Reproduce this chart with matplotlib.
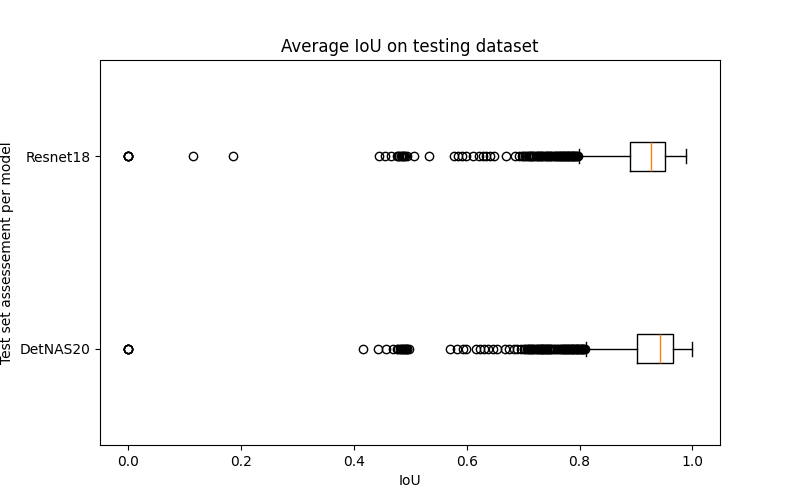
import matplotlib
matplotlib.use("Agg")
import matplotlib.pyplot as plt

models = ["DetNAS20", "Resnet18"]

# box statistics
q1 = [0.901, 0.889]
med = [0.942, 0.926]
q3 = [0.965, 0.952]
whislo = [0.812, 0.799]
whishi = [0.999, 0.989]

fliers_detnas = [0.0, 0.0, 0.0, 0.0, 0.0, 0.416, 0.443, 0.457, 0.469, 0.476, 0.479,
                 0.481, 0.483, 0.485, 0.487, 0.488, 0.490, 0.492, 0.494, 0.495, 0.498,
                 0.571, 0.582, 0.594, 0.598, 0.616, 0.624, 0.631, 0.637, 0.646,
                 0.653, 0.667, 0.675, 0.684, 0.690, 0.697, 0.701, 0.703, 0.706, 0.708,
                 0.710, 0.712, 0.714, 0.716, 0.718, 0.720, 0.722, 0.724, 0.726, 0.728,
                 0.730, 0.731, 0.733, 0.734, 0.736, 0.737, 0.739, 0.740, 0.742, 0.743,
                 0.745, 0.746, 0.748, 0.750, 0.752, 0.755, 0.757, 0.760, 0.762, 0.765,
                 0.767, 0.769, 0.771, 0.772, 0.774, 0.775, 0.777, 0.778, 0.780, 0.781,
                 0.783, 0.784, 0.786, 0.787, 0.789, 0.790, 0.792, 0.793, 0.795, 0.796,
                 0.798, 0.799, 0.801, 0.802, 0.804, 0.805, 0.807, 0.808, 0.810]
fliers_resnet = [0.0, 0.0, 0.0, 0.0, 0.0, 0.115, 0.186, 0.444, 0.455, 0.466, 0.476,
                 0.478, 0.480, 0.483, 0.485, 0.487, 0.488, 0.490, 0.494, 0.506, 0.534,
                 0.578, 0.584, 0.592, 0.598, 0.611, 0.621, 0.629, 0.635, 0.642,
                 0.648, 0.670, 0.686, 0.693, 0.698, 0.700, 0.703, 0.705, 0.708, 0.710,
                 0.712, 0.714, 0.716, 0.718, 0.720, 0.722, 0.724, 0.726, 0.728, 0.730,
                 0.732, 0.734, 0.736, 0.738, 0.740, 0.742, 0.744, 0.746, 0.748, 0.750,
                 0.752, 0.754, 0.756, 0.758, 0.760, 0.762, 0.764, 0.765, 0.767, 0.768,
                 0.770, 0.771, 0.773, 0.774, 0.776, 0.777, 0.779, 0.780, 0.782, 0.783,
                 0.785, 0.786, 0.788, 0.789, 0.791, 0.792, 0.794, 0.795, 0.797]
fliers = [fliers_detnas, fliers_resnet]

stats = []
for i, name in enumerate(models):
    stats.append(dict(label=name, med=med[i], q1=q1[i], q3=q3[i],
                      whislo=whislo[i], whishi=whishi[i], fliers=fliers[i]))

fig, ax = plt.subplots(figsize=(8, 5), dpi=100)
ax.bxp(stats, vert=False, showfliers=True)
ax.set_title("Average IoU on testing dataset")
ax.set_xlabel("IoU")
ax.set_ylabel("Test set assessement per model")
fig.savefig("out.png")
